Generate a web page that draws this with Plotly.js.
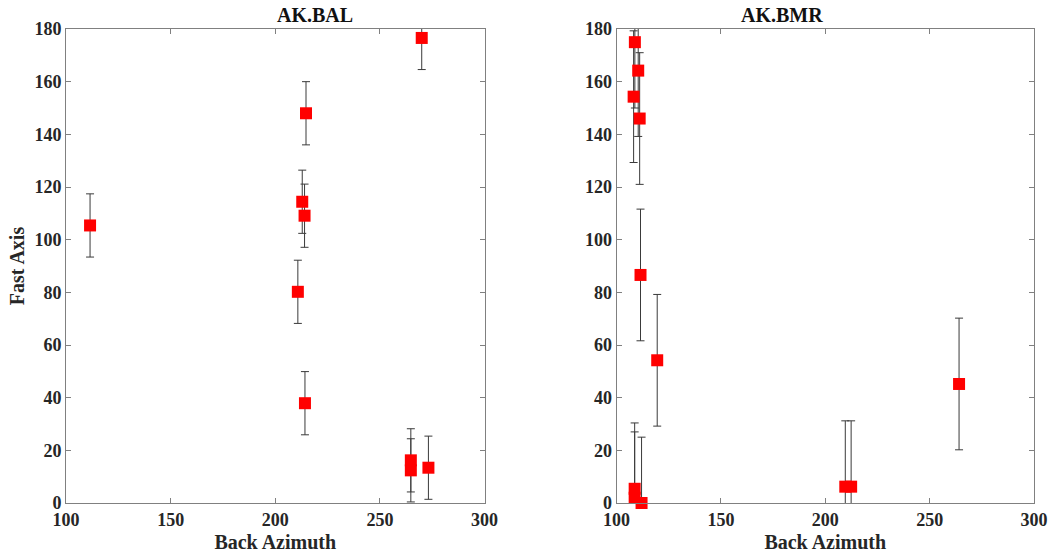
<!DOCTYPE html>
<html>
<head>
<meta charset="utf-8">
<script src="https://cdn.plot.ly/plotly-3.0.1.min.js"></script>
<style>html,body{margin:0;padding:0;background:#fff;}#chart{width:1052px;height:559px;}</style>
</head>
<body>
<div id="chart"></div>
<script>
// AK.BAL station
const balBackAz = [111.5, 210.8, 212.9, 214.0, 214.7, 214.2, 270.0, 264.8, 264.8, 273.2];
const balFast   = [105.4, 80.2, 114.4, 109.1, 148.0, 37.9, 176.6, 16.2, 12.4, 13.4];
const balErr    = [12, 12, 12, 12, 12, 12, 12, 12, 12, 12];
// AK.BMR station
const bmrBackAz = [108.8, 110.4, 108.2, 111.1, 111.5, 119.5, 108.7, 108.7, 112.0, 209.6, 212.4, 264.1];
const bmrFast   = [175.0, 164.2, 154.3, 146.0, 86.6, 54.2, 5.4, 2.0, 0.0, 6.2, 6.2, 45.2];
const bmrErr    = [25, 25, 25, 25, 25, 25, 25, 25, 25, 25, 25, 25];

const xTicks = [100, 150, 200, 250, 300];
const yTicks = [0, 20, 40, 60, 80, 100, 120, 140, 160, 180];

const FONT = 'Liberation Serif, Times New Roman, serif';
const AX = '#808080';

function errTrace(x, y, e, xa, ya) {
  return {x: x, y: y, xaxis: xa, yaxis: ya, type: 'scatter', mode: 'markers',
    marker: {size: 1, color: 'rgba(0,0,0,0)'}, cliponaxis: true, hoverinfo: 'skip',
    error_y: {type: 'data', array: e, symmetric: true, color: '#3a3a3a', thickness: 1, width: 4}};
}
function markTrace(x, y, xa, ya) {
  return {x: x, y: y, xaxis: xa, yaxis: ya, type: 'scatter', mode: 'markers',
    marker: {symbol: 'square', size: 12, color: '#ff0000'}, cliponaxis: false};
}

const data = [
  errTrace(balBackAz, balFast, balErr, 'x', 'y'),
  markTrace(balBackAz, balFast, 'x', 'y'),
  errTrace(bmrBackAz, bmrFast, bmrErr, 'x2', 'y2'),
  markTrace(bmrBackAz, bmrFast, 'x2', 'y2')
];

function xax(dom, anchor) {
  return {domain: dom, anchor: anchor, range: [100, 300], tickvals: xTicks, ticktext: xTicks.map(String),
    ticks: 'inside', ticklen: 5, tickcolor: AX, showline: true, linecolor: AX, linewidth: 1, mirror: 'ticks',
    showgrid: false, zeroline: false, automargin: false,
    tickfont: {family: FONT, size: 18, color: '#262626', weight: 'bold'},
    title: {text: '<b>Back Azimuth</b>', font: {family: FONT, size: 20, color: '#262626'}, standoff: 6}};
}
function yax(dom, anchor, title) {
  const a = {domain: dom, anchor: anchor, range: [0, 180], tickvals: yTicks, ticktext: yTicks.map(String),
    ticks: 'inside', ticklen: 5, tickcolor: AX, showline: true, linecolor: AX, linewidth: 1, mirror: 'ticks',
    showgrid: false, zeroline: false, automargin: false,
    tickfont: {family: FONT, size: 18, color: '#262626', weight: 'bold'}};
  if (title) a.title = {text: '<b>' + title + '</b>', font: {family: FONT, size: 20, color: '#262626'}, standoff: 4};
  return a;
}

const layout = {
  width: 1052, height: 559,
  margin: {l: 0, r: 0, t: 28.5, b: 55.7},
  paper_bgcolor: '#fff', plot_bgcolor: '#fff',
  showlegend: false,
  xaxis: xax([66 / 1052, 484.5 / 1052], 'y'),
  yaxis: yax([0, 1], 'x', 'Fast Axis'),
  xaxis2: xax([616.5 / 1052, 1034 / 1052], 'y2'),
  yaxis2: yax([0, 1], 'x2', null),
  annotations: [
    {text: '<b>AK.BAL</b>', x: 275 / 1052, y: 1, xref: 'paper', yref: 'paper', yanchor: 'bottom', yshift: 1,
      showarrow: false, font: {family: FONT, size: 20, color: '#111'}},
    {text: '<b>AK.BMR</b>', x: 825 / 1052, y: 1, xref: 'paper', yref: 'paper', yanchor: 'bottom', yshift: 1,
      showarrow: false, font: {family: FONT, size: 20, color: '#111'}}
  ]
};

Plotly.newPlot('chart', data, layout, {displayModeBar: false, staticPlot: true});
</script>
</body>
</html>
